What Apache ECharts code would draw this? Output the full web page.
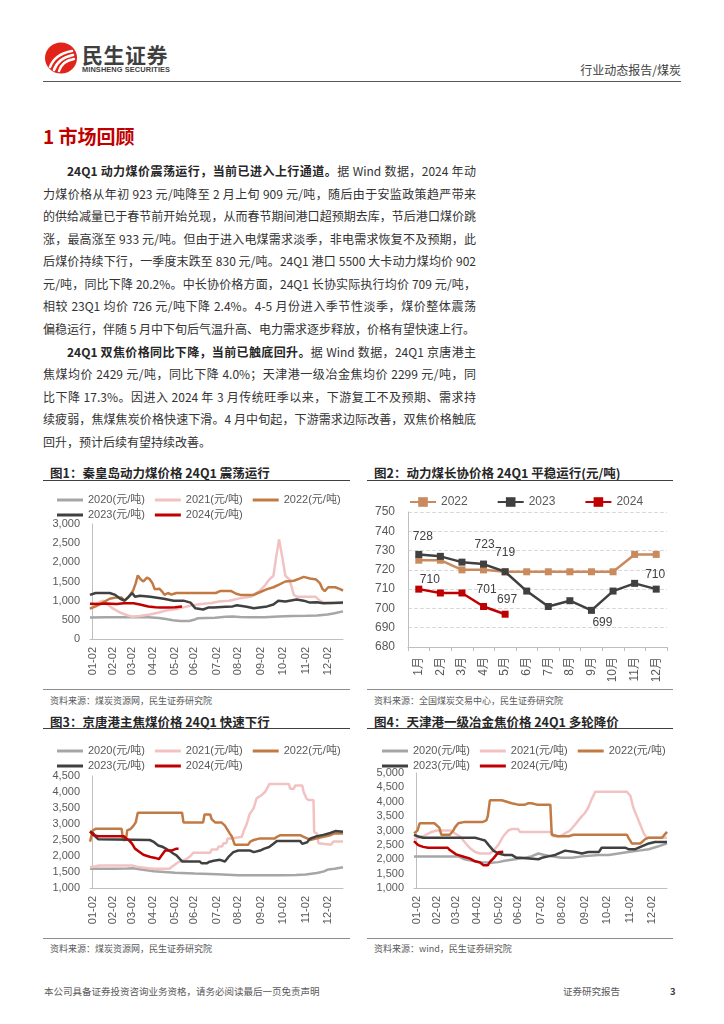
<!DOCTYPE html>
<html><head><meta charset="utf-8">
<script src="https://cdn.jsdelivr.net/npm/echarts@6/dist/echarts.min.js"></script>
<style>
body{margin:0;background:#fff;}
#page{position:relative;width:724px;height:1024px;overflow:hidden;font-family:"Noto Sans CJK SC","Liberation Sans",sans-serif;color:#333;background:#fff;}
.abs{position:absolute;white-space:nowrap;}
.ln{position:absolute;left:43px;width:433px;height:20px;line-height:20px;font-size:12px;text-align:justify;text-align-last:justify;color:#333;}
.ln.first{left:67px;width:409px;}
.ln.last{text-align-last:left;}
.ln b{font-weight:700;color:#262626;}
.ftitle{position:absolute;font-size:12.5px;font-weight:700;color:#262626;height:16px;line-height:16px;white-space:nowrap;}
.src{position:absolute;font-size:9px;color:#595959;height:12px;line-height:12px;white-space:nowrap;}
.hl{position:absolute;height:0;}
#chart{position:absolute;left:0;top:0;width:724px;height:1024px;pointer-events:none;}
</style></head>
<body><div id="page">
<svg class="abs" style="left:44px;top:42px" width="34" height="32" viewBox="0 0 34 32">
<ellipse cx="17" cy="16" rx="16" ry="15.5" fill="#E2231A"/>
<path d="M6 25 Q11 12 28 9" stroke="#fff" stroke-width="2.6" fill="none" stroke-linecap="round"/>
<path d="M10 28 Q14 16 29 13" stroke="#fff" stroke-width="2.6" fill="none" stroke-linecap="round"/>
<path d="M15 29 Q18 19 30 17" stroke="#fff" stroke-width="2.4" fill="none" stroke-linecap="round"/>
</svg>
<div class="abs" style="left:82px;top:42px;font-size:21px;line-height:24px;font-weight:700;color:#3f3f3f;letter-spacing:0.5px;">民生证券</div>
<div class="abs" style="left:82px;top:66px;font-size:7.4px;line-height:8px;font-weight:700;color:#3f3f3f;font-family:'Liberation Sans',sans-serif;letter-spacing:0.1px;">MINSHENG SECURITIES</div>
<div class="abs" style="right:43px;top:62px;font-size:12px;line-height:16px;color:#404040;">行业动态报告/煤炭</div>
<div class="hl" style="left:43px;width:638px;top:81px;border-top:1.5px solid #595959;"></div>

<div class="abs" style="left:43px;top:124px;font-size:19px;line-height:24px;font-weight:700;color:#C00000;">1 市场回顾</div>

<div class="ln first" style="top:161px"><b>24Q1 动力煤价震荡运行，当前已进入上行通道。</b>据 Wind 数据，2024 年动</div>
<div class="ln" style="top:183.5px">力煤价格从年初 923 元/吨降至 2 月上旬 909 元/吨，随后由于安监政策趋严带来</div>
<div class="ln" style="top:206px">的供给减量已于春节前开始兑现，从而春节期间港口超预期去库，节后港口煤价跳</div>
<div class="ln" style="top:228.5px">涨，最高涨至 933 元/吨。但由于进入电煤需求淡季，非电需求恢复不及预期，此</div>
<div class="ln" style="top:251px">后煤价持续下行，一季度末跌至 830 元/吨。24Q1 港口 5500 大卡动力煤均价 902</div>
<div class="ln" style="top:273.5px">元/吨，同比下降 20.2%。中长协价格方面，24Q1 长协实际执行均价 709 元/吨，</div>
<div class="ln" style="top:296px">相较 23Q1 均价 726 元/吨下降 2.4%。4-5 月份进入季节性淡季，煤价整体震荡</div>
<div class="ln last" style="top:318.5px">偏稳运行，伴随 5 月中下旬后气温升高、电力需求逐步释放，价格有望快速上行。</div>

<div class="ln first" style="top:341.5px"><b>24Q1 双焦价格同比下降，当前已触底回升。</b>据 Wind 数据，24Q1 京唐港主</div>
<div class="ln" style="top:364px">焦煤均价 2429 元/吨，同比下降 4.0%；天津港一级冶金焦均价 2299 元/吨，同</div>
<div class="ln" style="top:386.5px">比下降 17.3%。因进入 2024 年 3 月传统旺季以来，下游复工不及预期、需求持</div>
<div class="ln" style="top:409px">续疲弱，焦煤焦炭价格快速下滑。4 月中旬起，下游需求边际改善，双焦价格触底</div>
<div class="ln last" style="top:431.5px">回升，预计后续有望持续改善。</div>

<div class="ftitle" style="left:50px;top:465px">图1：秦皇岛动力煤价格 24Q1 震荡运行</div>
<div class="ftitle" style="left:374px;top:465px">图2：动力煤长协价格 24Q1 平稳运行(元/吨)</div>
<div class="hl" style="left:43px;width:307px;top:480px;border-top:1.5px solid #404040;"></div>
<div class="hl" style="left:367px;width:306px;top:480px;border-top:1.5px solid #404040;"></div>
<div class="hl" style="left:43px;width:307px;top:689px;border-top:1px solid #8c8c8c;"></div>
<div class="hl" style="left:367px;width:306px;top:689px;border-top:1px solid #8c8c8c;"></div>
<div class="src" style="left:50px;top:695px">资料来源：煤炭资源网，民生证券研究院</div>
<div class="src" style="left:374px;top:695px">资料来源：全国煤炭交易中心，民生证券研究院</div>

<div class="ftitle" style="left:50px;top:714px">图3：京唐港主焦煤价格 24Q1 快速下行</div>
<div class="ftitle" style="left:374px;top:714px">图4：天津港一级冶金焦价格 24Q1 多轮降价</div>
<div class="hl" style="left:43px;width:307px;top:728px;border-top:1.5px solid #404040;"></div>
<div class="hl" style="left:367px;width:306px;top:728px;border-top:1.5px solid #404040;"></div>
<div class="hl" style="left:43px;width:307px;top:938px;border-top:1px solid #8c8c8c;"></div>
<div class="hl" style="left:367px;width:306px;top:938px;border-top:1px solid #8c8c8c;"></div>
<div class="src" style="left:50px;top:943px">资料来源：煤炭资源网，民生证券研究院</div>
<div class="src" style="left:374px;top:943px">资料来源：wind，民生证券研究院</div>

<div class="abs" style="left:44px;top:985px;font-size:9.5px;line-height:13px;color:#595959;">本公司具备证券投资咨询业务资格，请务必阅读最后一页免责声明</div>
<div class="abs" style="left:563px;top:985px;font-size:9.5px;line-height:13px;color:#595959;">证券研究报告</div>
<div class="abs" style="left:670px;top:985px;font-size:9.5px;line-height:13px;color:#404040;font-weight:700;">3</div>

<div id="chart"></div>
</div>
<script>
// ---------- axis ticks / categories ----------
const dateTicks = [1, 30, 57, 87, 118, 145, 178, 208, 240, 271, 304, 335];
const dateLabels = ['01-02','02-02','03-02','04-02','05-02','06-02','07-02','08-02','09-02','10-02','11-02','12-02'];
const yearNames = ['2020(元/吨)','2021(元/吨)','2022(元/吨)','2023(元/吨)','2024(元/吨)'];
const months = ['1月','2月','3月','4月','5月','6月','7月','8月','9月','10月','11月','12月'];

// ---------- Fig1: 秦皇岛动力煤价格 [day, 元/吨] ----------
const qhd2020 = [[-3,560],[20,565],[45,570],[60,575],[80,565],[95,545],[105,520],[115,490],[125,470],[138,470],[145,500],[150,540],[175,555],[190,580],[200,590],[210,575],[225,565],[245,570],[265,590],[285,600],[305,605],[320,615],[335,640],[345,670],[357,720]];
const qhd2021 = [[-3,780],[3,880],[10,960],[16,1000],[22,900],[30,790],[40,690],[50,620],[57,580],[68,600],[82,640],[95,690],[105,740],[115,770],[125,800],[135,850],[145,890],[155,910],[170,940],[180,980],[195,1000],[210,1060],[225,1100],[238,1250],[246,1400],[252,1550],[258,1650],[262,2150],[266,2600],[270,2200],[275,1650],[281,1550],[287,1150],[292,1100],[318,1100],[324,1000],[330,950],[357,930]];
const qhd2022 = [[-3,790],[5,850],[15,950],[25,1050],[33,1080],[42,1080],[46,1000],[50,1060],[54,1150],[58,1250],[62,1450],[65,1660],[69,1560],[73,1500],[78,1600],[82,1560],[86,1450],[89,1300],[96,1310],[100,1230],[103,1150],[108,1200],[113,1160],[120,1200],[176,1200],[182,1250],[198,1250],[205,1180],[211,1150],[230,1150],[236,1200],[249,1300],[258,1350],[266,1420],[275,1500],[287,1520],[296,1580],[301,1620],[310,1580],[319,1550],[324,1460],[328,1300],[331,1250],[336,1350],[346,1350],[353,1300],[357,1260]];
const qhd2023 = [[-3,1150],[5,1200],[25,1200],[33,1150],[40,1050],[46,1000],[52,1100],[57,1200],[61,1100],[68,1130],[83,1100],[102,1050],[116,1000],[130,1000],[140,950],[147,800],[158,770],[165,820],[173,820],[190,840],[200,850],[206,880],[220,840],[230,800],[249,850],[258,900],[265,1000],[275,980],[291,1030],[301,1000],[310,950],[320,960],[329,930],[343,940],[357,950]];
const qhd2024 = [[-3,920],[10,915],[20,925],[35,915],[45,930],[59,930],[68,900],[80,850],[90,830],[97,820],[109,820],[118,830],[128,850]];

// ---------- Fig2: 动力煤长协价格 (元/吨) ----------
const lx2022 = [725,725,720,720,719,719,719,719,719,719,728,728];
const lx2023 = [728,727,724,723,719,709,701,704,699,709,713,710];
const lx2024 = [710,708,708,701,697];

// ---------- Fig3: 京唐港主焦煤价格 [day, 元/吨] ----------
const jt2020 = [[-3,1600],[30,1600],[50,1610],[58,1620],[70,1580],[88,1520],[118,1480],[146,1450],[178,1430],[208,1400],[240,1400],[272,1400],[290,1410],[304,1420],[320,1470],[330,1520],[336,1580],[345,1600],[357,1650]];
const jt2021 = [[-3,1650],[5,1680],[10,1700],[58,1700],[65,1660],[80,1620],[88,1600],[110,1600],[112,1650],[116,1700],[122,1800],[128,1850],[134,1900],[140,2000],[144,2100],[168,2100],[170,2200],[178,2200],[180,2300],[185,2300],[187,2400],[191,2400],[193,2550],[199,2550],[201,2600],[213,2600],[216,2800],[220,3000],[224,3300],[230,3500],[234,3800],[241,3900],[246,4000],[250,4150],[252,4250],[280,4250],[282,4100],[287,4100],[289,4200],[299,4200],[301,4000],[305,3800],[308,3750],[315,3750],[316,2750],[320,2700],[322,2400],[323,2350],[340,2350],[343,2450],[357,2450]];
const jt2022 = [[-3,2450],[1,2800],[5,2850],[42,2850],[44,2500],[48,2500],[50,2800],[55,2850],[59,2950],[62,3050],[65,3350],[128,3350],[130,3050],[158,3050],[160,3300],[168,3300],[170,3150],[175,3050],[184,3050],[189,2950],[196,2700],[199,2600],[203,2350],[222,2350],[225,2450],[230,2500],[239,2550],[260,2550],[263,2600],[268,2650],[296,2650],[301,2600],[306,2550],[310,2500],[320,2550],[329,2600],[339,2650],[344,2700],[357,2700]];
const jt2023 = [[-3,2770],[2,2700],[5,2600],[9,2520],[82,2500],[87,2450],[94,2330],[101,2280],[109,2180],[116,2070],[120,2020],[125,1900],[128,1830],[153,1830],[156,1770],[163,1770],[166,1810],[173,1850],[182,1880],[189,1830],[194,1970],[201,2120],[208,2170],[225,2170],[230,2120],[239,2170],[245,2230],[252,2280],[258,2380],[263,2470],[296,2470],[299,2380],[306,2430],[310,2540],[320,2620],[329,2660],[339,2720],[346,2780],[357,2760]];
const jt2024 = [[-3,2770],[2,2650],[9,2620],[45,2620],[49,2540],[53,2480],[57,2380],[61,2230],[68,2120],[73,2040],[83,1970],[90,1940],[95,1900],[97,1920],[99,2020],[104,2170],[113,2170],[120,2230],[123,2230]];

// ---------- Fig4: 天津港一级冶金焦价格 [day, 元/吨] ----------
const tj2020 = [[-3,2100],[60,2100],[69,2000],[79,1950],[91,1900],[107,1880],[117,1900],[126,1950],[141,2000],[155,2050],[164,2100],[174,2200],[183,2150],[193,2100],[207,2050],[222,2050],[236,2100],[260,2150],[274,2150],[288,2200],[302,2250],[317,2300],[331,2350],[345,2450],[357,2550]];
const tj2021 = [[-3,2700],[10,2800],[22,2950],[29,3000],[50,3000],[55,2900],[62,2800],[69,2600],[76,2400],[84,2250],[91,2200],[105,2200],[110,2300],[117,2500],[124,2800],[131,3000],[136,3050],[145,3050],[148,2950],[193,2950],[195,2800],[205,2800],[212,2900],[219,3000],[226,3200],[236,3500],[240,3600],[245,3800],[250,4100],[255,4350],[300,4350],[305,4200],[309,3800],[314,3500],[319,3200],[324,2900],[328,2750],[357,2750]];
const tj2022 = [[-3,2900],[2,3000],[5,3250],[26,3250],[33,3100],[36,2850],[48,2850],[53,3000],[55,3100],[60,3250],[69,3300],[95,3300],[100,3350],[102,3500],[105,4050],[122,4050],[136,3950],[145,3900],[155,3900],[160,3950],[164,3950],[172,3900],[191,3900],[193,2850],[202,2800],[217,2800],[224,2850],[300,2850],[302,2750],[307,2550],[319,2550],[326,2700],[331,2750],[350,2750],[357,2950]];
const tj2023 = [[-3,2850],[2,2800],[10,2750],[84,2750],[91,2700],[98,2650],[103,2500],[110,2300],[117,2200],[126,2150],[136,2150],[143,2050],[148,2050],[150,2000],[174,2000],[179,2050],[188,2100],[198,2150],[207,2250],[212,2300],[226,2250],[236,2200],[245,2250],[260,2250],[264,2400],[298,2400],[302,2350],[312,2350],[321,2450],[331,2550],[340,2600],[357,2600]];
const tj2024 = [[-3,2630],[3,2490],[10,2430],[17,2400],[45,2400],[48,2320],[57,2170],[69,2080],[76,2030],[84,1930],[91,1890],[96,1790],[102,1790],[105,1910],[110,2030],[117,2240],[124,2260]];

// ---------- build ----------
const FONT = "'Liberation Sans','Noto Sans CJK SC',sans-serif";
const LBL = '#595959';
const AXC = '#BFBFBF';
const yearColors = ['#A6A6A6','#F2C2C2','#C27A44','#404040','#C00000'];
const lxColors = ['#C98A5E','#404040','#C00000'];

const chart = echarts.init(document.getElementById('chart'), null, {renderer:'canvas'});

const grids = [
  {left:90, top:524, width:253, height:115},
  {left:408, top:512, width:259, height:135},
  {left:90, top:776, width:253, height:112},
  {left:414, top:773, width:253, height:115}
];

function dateAxis(gi){
  return {type:'value', gridIndex:gi, min:-3, max:357,
    axisLine:{show:true, lineStyle:{color:AXC, width:1}},
    axisTick:{show:false}, splitLine:{show:false},
    axisLabel:{customValues:dateTicks, rotate:90, margin:8, fontSize:11, color:LBL, fontFamily:FONT,
      formatter:(v)=>{const i=dateTicks.indexOf(v); return i>=0?dateLabels[i]:'';}}};
}
function valAxis(gi, min, max, interval, opts){
  return Object.assign({type:'value', gridIndex:gi, min, max, interval,
    axisLine:{show:true, lineStyle:{color:AXC, width:1}},
    axisTick:{show:false}, splitLine:{show:false},
    axisLabel:{margin:10, fontSize:11, color:LBL, fontFamily:FONT}}, opts||{});
}

const xAxes = [
  dateAxis(0),
  {type:'category', gridIndex:1, data:months, boundaryGap:true,
   axisLine:{show:true, lineStyle:{color:AXC}}, axisTick:{show:true, length:4, lineStyle:{color:AXC}},
   axisLabel:{rotate:90, margin:10, fontSize:12, color:LBL, fontFamily:FONT}},
  dateAxis(2),
  dateAxis(3)
];
const yAxes = [
  valAxis(0, 0, 3000, 500),
  valAxis(1, 680, 750, 10, {splitLine:{show:true, lineStyle:{color:'#D9D9D9', type:'dashed'}},
    axisLabel:{margin:13, fontSize:12, color:LBL, fontFamily:FONT}}),
  valAxis(2, 1000, 4500, 500),
  valAxis(3, 1000, 5000, 500)
];

const series = [];
function addYears(gi, arrs){
  arrs.forEach((d, i)=>{
    series.push({type:'line', name:yearNames[i], xAxisIndex:gi, yAxisIndex:gi, data:d,
      symbol:'none', showSymbol:false, z:2+i,
      lineStyle:{width:2.5, color:yearColors[i]}, itemStyle:{color:yearColors[i]}});
  });
}
addYears(0, [qhd2020, qhd2021, qhd2022, qhd2023, qhd2024]);
addYears(2, [jt2020, jt2021, jt2022, jt2023, jt2024]);
addYears(3, [tj2020, tj2021, tj2022, tj2023, tj2024]);

// value labels shown on chosen points (styling kept here, not in data)
const labelCfg = {
  '2023': {0:{pos:'top',off:[4,-3]}, 3:{pos:'top',off:[1,-5]}, 4:{pos:'top',off:[0,-5]}, 8:{pos:'bottom',off:[11,-2]}, 11:{pos:'top',off:[-1,0]}},
  '2024': {0:{pos:'top',off:[11,5]}, 3:{pos:'top',off:[3,-2]}, 4:{pos:'top',off:[2,0]}}
};
[['2022',lx2022],['2023',lx2023],['2024',lx2024]].forEach(([nm, arr], i)=>{
  const cfg = labelCfg[nm] || {};
  const data = arr.map((v, k)=> cfg[k] ? {value:v, label:{show:true, position:cfg[k].pos, offset:cfg[k].off, distance:5,
      fontSize:12, color:'#404040', fontFamily:FONT}} : v);
  series.push({type:'line', name:nm, xAxisIndex:1, yAxisIndex:1, data,
    symbol:'rect', symbolSize:7, showSymbol:true, z:2+i,
    lineStyle:{width:2.5, color:lxColors[i]}, itemStyle:{color:lxColors[i]}});
});

function legendRow(left, center, names, gap){
  return {left, top:center-1.5, data:names, orient:'horizontal', icon:'rect', itemWidth:26, itemHeight:3, itemGap:gap,
    selectedMode:false, padding:0, textStyle:{fontSize:11, color:LBL, fontFamily:FONT}};
}
const legends = [
  legendRow(57, 496, yearNames.slice(0,3), 10),
  legendRow(57, 511, yearNames.slice(3), 10),
  legendRow(57, 747, yearNames.slice(0,3), 10),
  legendRow(57, 762, yearNames.slice(3), 10),
  legendRow(382, 747, yearNames.slice(0,3), 10),
  legendRow(382, 762, yearNames.slice(3), 10),
  {left:409, top:496, data:['2022','2023','2024'], itemWidth:26, itemHeight:12, itemGap:29,
   selectedMode:false, padding:0, textStyle:{fontSize:12, color:LBL, fontFamily:FONT}}
];

chart.setOption({
  animation:false,
  backgroundColor:'transparent',
  grid:grids, xAxis:xAxes, yAxis:yAxes, legend:legends, series
});
</script>
</body></html>
